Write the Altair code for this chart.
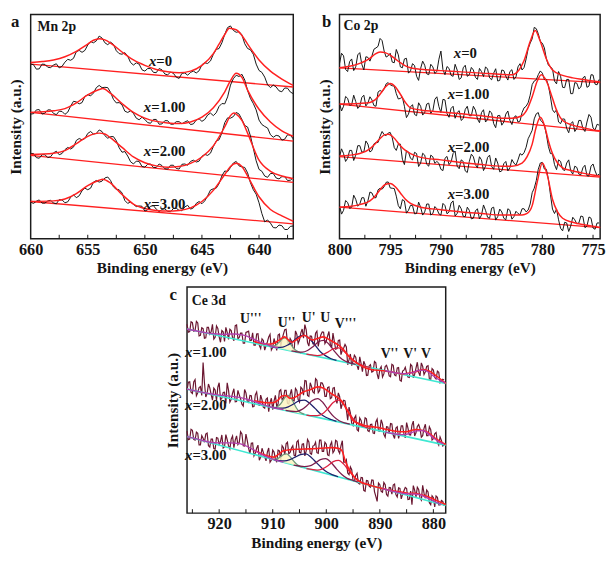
import altair as alt
import pandas as pd

FONT = "Liberation Serif"
RED = "#ff2020"
INK = "#141414"

# ===================== a : Mn 2p =====================
A_ENERGY = [660 - 0.5 * i for i in range(47)]          # 660 ... 637 eV
A_MID_ENERGY = [659.75 - 0.5 * i for i in range(46)]   # 659.75 ... 637.25 eV
A_NAMES = ["x=0", "x=1.00", "x=2.00", "x=3.00"]
A_X0 = [552, 536, 552, 542, 549, 540, 558, 564, 591, 589, 612, 619, 640, 619, 621, 594, 583, 577, 549, 552,
        530, 538, 525, 534, 518, 523, 507, 524, 526, 524, 550, 554, 583, 601, 646, 672, 652, 644, 601, 583,
        532, 511, 478, 480, 465, 476, 459]
A_X0_MID = [550, 537, 551, 541, 553, 545, 567, 570, 595, 595, 623, 625, 634, 613, 614, 585, 588, 557, 556, 534,
            538, 526, 538, 521, 527, 511, 523, 517, 530, 531, 556, 562, 598, 619, 667, 658, 654, 616, 597, 552,
            526, 487, 486, 468, 477, 464]
A_X1 = [395, 408, 395, 408, 397, 404, 394, 420, 433, 431, 456, 461, 485, 479, 463, 430, 424, 400, 397, 377,
        378, 366, 378, 364, 374, 363, 371, 370, 362, 376, 372, 392, 390, 419, 427, 486, 517, 520, 469, 428,
        376, 356, 330, 328, 313, 330, 317]
A_X1_MID = [396, 409, 398, 408, 393, 403, 401, 435, 427, 450, 452, 478, 478, 478, 441, 431, 404, 405, 382, 385,
            368, 378, 363, 374, 363, 371, 364, 374, 364, 380, 378, 398, 399, 428, 449, 506, 513, 502, 444, 408,
            362, 351, 322, 326, 316, 328]
A_X2 = [271, 258, 267, 258, 273, 267, 283, 285, 312, 314, 334, 332, 345, 327, 324, 311, 275, 263, 238, 246,
        228, 238, 227, 233, 222, 234, 222, 238, 246, 244, 262, 265, 293, 314, 368, 382, 400, 378, 354, 287,
        221, 200, 208, 194, 198, 186, 195]
A_X2_MID = [271, 256, 267, 261, 278, 271, 290, 291, 318, 318, 340, 334, 340, 319, 324, 289, 277, 245, 247, 230,
            237, 227, 238, 223, 234, 224, 237, 234, 250, 247, 268, 272, 310, 336, 383, 387, 395, 359, 326, 248,
            215, 196, 208, 191, 198, 187]
A_X3 = [118, 121, 115, 122, 115, 126, 116, 133, 132, 154, 157, 181, 181, 194, 186, 158, 147, 114, 111, 106,
        90, 105, 96, 95, 89, 98, 92, 103, 96, 114, 113, 138, 160, 176, 216, 227, 246, 229, 210, 157,
        116, 56, 52, 37, 44, 32, 43]
A_X3_MID = [114, 125, 115, 124, 113, 125, 119, 141, 138, 162, 162, 186, 184, 197, 166, 157, 123, 119, 104, 105,
            94, 107, 88, 97, 88, 99, 91, 108, 100, 120, 122, 156, 162, 201, 214, 241, 232, 227, 179, 143,
            82, 62, 38, 46, 32, 42]
A_FIT = {
    "x=0": [(660, 557), (659, 560), (658, 565), (657, 575), (656, 592), (655, 615), (654.5, 627), (654, 632),
            (653.5, 628), (653, 618), (652, 590), (651, 565), (650, 548), (649, 535), (648, 528), (647, 525),
            (646, 530), (645, 548), (644, 585), (643.5, 615), (643, 645), (642.6, 665), (642, 660),
            (641.5, 642), (641, 615), (640, 565), (639, 530), (638, 505), (637, 485)],
    "x=1.00": [(660, 400), (658, 405), (657, 412), (656, 430), (655, 455), (654, 472), (653.7, 475), (653, 460),
               (652, 428), (651, 400), (650, 382), (649, 372), (648, 367), (647, 365), (646, 370), (645, 385),
               (644, 415), (643, 465), (642.5, 500), (642, 523), (641.5, 510), (641, 470), (640, 410),
               (639, 370), (638, 342), (637, 325)],
    "x=2.00": [(660, 268), (658, 272), (657, 280), (656, 302), (655, 325), (654, 335), (653.5, 332), (653, 320),
               (652, 290), (651, 260), (650, 242), (649, 232), (648, 228), (647, 230), (646, 240), (645, 260),
               (644, 295), (643, 355), (642.5, 390), (642.2, 398), (642, 395), (641.5, 375), (641, 335),
               (640, 250), (639, 215), (638, 200), (637, 192)],
    "x=3.00": [(660, 120), (658, 122), (657, 128), (656, 145), (655, 170), (654, 187), (653.7, 190), (653, 178),
               (652, 142), (651, 112), (650, 98), (649, 92), (648, 90), (647, 92), (646, 100), (645, 120),
               (644, 155), (643, 205), (642.5, 230), (642, 240), (641.5, 230), (641, 200), (640, 135),
               (639, 95), (638, 75), (637, 58)],
}
A_BASE = {"x=0": [(660, 552), (637, 480)], "x=1.00": [(660, 400), (637, 310)],
          "x=2.00": [(660, 265), (637, 180)], "x=3.00": [(660, 120), (637, 50)]}
A_TICKS = [657.5, 655, 652.5, 650, 647.5, 645, 642.5, 640, 637.5]
A_TAG_TEXT = ["=0", "=1.00", "=2.00", "=3.00"]
A_TAG_E = [649.0, 649.44, 649.44, 649.44]
A_TAG_I = [560, 418, 278, 113]

# ===================== b : Co 2p =====================
B_ENERGY = [800 - 0.4 * i for i in range(65)]          # 800 ... 774.4 eV
B_MID_ENERGY = [799.8 - 0.4 * i for i in range(64)]    # 799.8 ... 774.6 eV
B_X0 = [555, 580, 530, 570, 545, 590, 535, 575, 580, 605, 635, 595, 580, 560, 600, 545, 570, 525, 555, 515,
        540, 550, 520, 545, 530, 595, 520, 540, 515, 535, 510, 550, 520, 535, 505, 530, 545, 510, 525, 500,
        535, 515, 530, 505, 545, 535, 570, 620, 670, 650, 620, 570, 545, 500, 530, 480, 505, 460, 495, 475,
        510, 480, 520, 490, 505]
B_X0_MID = [588, 537, 562, 533, 583, 553, 577, 563, 601, 610, 628, 576, 588, 558, 583, 542, 572, 532, 549, 502,
            563, 523, 553, 524, 569, 536, 546, 518, 553, 505, 542, 515, 543, 512, 540, 514, 538, 504, 539, 502,
            533, 503, 536, 513, 555, 543, 602, 634, 666, 626, 605, 550, 539, 491, 515, 479, 505, 460, 493, 481,
            515, 484, 519, 488]
B_X1 = [430, 420, 445, 425, 435, 420, 455, 430, 440, 420, 470, 475, 495, 485, 460, 445, 420, 395, 425, 390,
        420, 400, 430, 405, 450, 400, 440, 385, 420, 400, 375, 410, 390, 420, 380, 400, 370, 405, 365, 390,
        360, 395, 375, 385, 370, 400, 420, 455, 500, 520, 525, 505, 450, 400, 370, 380, 350, 365, 340, 375,
        350, 370, 385, 345, 360]
B_X1_MID = [405, 451, 423, 455, 413, 448, 421, 450, 422, 465, 466, 491, 488, 484, 443, 449, 384, 418, 394, 431,
            392, 427, 398, 442, 419, 442, 397, 413, 382, 406, 381, 420, 390, 408, 368, 409, 378, 399, 352, 391,
            370, 405, 362, 390, 373, 415, 431, 489, 504, 532, 505, 486, 409, 409, 365, 379, 336, 371, 350, 375,
            340, 394, 351, 363]
B_X2 = [260, 270, 255, 280, 265, 295, 275, 300, 280, 305, 325, 330, 335, 320, 280, 300, 235, 275, 250, 270,
        240, 265, 230, 260, 245, 220, 255, 235, 270, 230, 250, 215, 245, 260, 225, 250, 230, 265, 220, 240,
        215, 245, 225, 240, 250, 265, 290, 330, 380, 400, 370, 330, 270, 235, 250, 220, 240, 215, 230, 205,
        225, 200, 230, 215, 205]
B_X2_MID = [285, 245, 280, 248, 295, 275, 310, 275, 301, 305, 340, 327, 337, 289, 300, 252, 279, 255, 274, 229,
            271, 236, 265, 239, 239, 216, 261, 243, 278, 222, 245, 210, 268, 235, 260, 216, 258, 229, 256, 212,
            238, 215, 251, 233, 270, 273, 317, 344, 396, 376, 360, 292, 269, 219, 245, 216, 250, 205, 226, 203,
            233, 199, 237, 200]
B_X3 = [105, 90, 115, 100, 125, 110, 130, 120, 145, 130, 160, 165, 180, 160, 135, 95, 120, 90, 105, 80,
        100, 85, 110, 80, 95, 75, 105, 85, 120, 80, 95, 70, 90, 65, 95, 75, 90, 65, 100, 70,
        85, 60, 90, 70, 80, 95, 85, 110, 160, 220, 242, 220, 140, 80, 60, 25, 50, 40, 60, 50,
        70, 40, 65, 30, 50]
B_X3_MID = [78, 121, 96, 138, 103, 130, 103, 148, 130, 155, 157, 179, 161, 159, 105, 124, 81, 106, 79, 116,
            75, 110, 75, 102, 79, 112, 79, 113, 72, 106, 71, 100, 63, 88, 63, 107, 68, 97, 59, 94,
            65, 95, 62, 87, 76, 95, 91, 146, 184, 240, 221, 188, 94, 94, 33, 52, 23, 68, 47, 72,
            35, 69, 34, 50]
B_FIT = {
    "x=0": [(800, 542), (799, 547), (798, 556), (797, 572), (796.5, 585), (796, 592), (795.5, 590), (795, 582),
            (794.5, 570), (794, 558), (793.5, 548), (793, 542), (792, 537), (790, 533), (788, 529), (786, 525),
            (784, 521), (783, 520), (782.3, 535), (781.8, 565), (781.2, 625), (780.7, 660), (780.25, 630),
            (779.6, 570), (779, 535), (778, 518), (777, 510), (776, 505), (775, 500), (774.3, 497)],
    "x=1.00": [(800, 427), (798, 429), (797, 432), (796.5, 440), (796, 458), (795.5, 480), (795, 492),
               (794.5, 482), (794, 458), (793.5, 432), (793, 415), (792, 408), (790, 402), (788, 396),
               (786, 390), (784, 382), (783, 382), (782, 390), (781.5, 410), (781, 450), (780.5, 500),
               (780.1, 520), (779.6, 500), (779, 445), (778.5, 400), (778, 375), (777, 360), (776, 352),
               (775, 345), (774.3, 342)],
    "x=2.00": [(800, 262), (799, 265), (798, 270), (797, 285), (796.5, 300), (796, 318), (795.5, 330),
               (795.2, 331), (794.9, 328), (794.5, 315), (794, 295), (793.5, 280), (793, 270), (792, 258),
               (790, 250), (788, 242), (786, 235), (784, 230), (783, 230), (782, 240), (781.5, 260),
               (781, 300), (780.6, 355), (780.2, 385), (779.8, 360), (779.4, 310), (779, 270), (778.5, 240),
               (778, 225), (777, 215), (776, 208), (775, 202), (774.3, 198)],
    "x=3.00": [(800, 100), (799, 102), (798, 108), (797, 120), (796.5, 135), (796, 155), (795.5, 172),
               (795, 175), (794.5, 165), (794, 145), (793.5, 125), (793, 112), (792, 100), (790, 92), (788, 85),
               (786, 80), (784, 75), (782, 75), (781.5, 80), (781, 105), (780.5, 180), (780, 240),
               (779.5, 200), (779, 125), (778.5, 85), (778, 65), (777, 52), (776, 45), (775, 40),
               (774.3, 36)],
}
B_BASE = {"x=0": [(800, 542), (774.3, 495)], "x=1.00": [(800, 427), (774.3, 340)],
          "x=2.00": [(800, 260), (774.3, 195)], "x=3.00": [(800, 100), (774.3, 35)]}
B_TICKS = [797.5, 795, 792.5, 790, 787.5, 785, 782.5, 780, 777.5, 775]
B_TAG_TEXT = ["=0", "=1.00", "=2.00", "=3.00"]
B_TAG_E = [788.0, 788.6, 788.6, 788.6]
B_TAG_I = [590, 458, 291, 141]

# ===================== c : Ce 3d =====================
C_ENERGY = [926 - 0.5 * i for i in range(97)]          # 926 ... 878 eV
C_MID_ENERGY = [925.75 - 0.5 * i for i in range(96)]   # 925.75 ... 878.25 eV
C_NAMES = ["x=1.00", "x=2.00", "x=3.00"]
C_X1 = [600, 577, 605, 580, 604, 565, 586, 557, 590, 576, 553, 595, 560, 580, 546, 574, 584, 558, 596, 554,
        572, 540, 574, 578, 549, 534, 569, 533, 554, 518, 544, 568, 527, 539, 566, 530, 569, 584, 535, 547,
        518, 568, 550, 585, 599, 542, 563, 538, 572, 530, 567, 575, 547, 577, 526, 546, 523, 550, 518, 536,
        472, 506, 483, 496, 456, 476, 483, 438, 468, 449, 482, 443, 458, 433, 466, 457, 434, 470, 437, 463,
        420, 455, 446, 432, 468, 442, 480, 437, 467, 450, 469, 426, 455, 427, 448, 419, 424]
C_X1_MID = [575, 608, 578, 609, 563, 589, 556, 590, 569, 600, 559, 587, 543, 576, 590, 552, 580, 548, 598, 558,
            572, 540, 576, 549, 573, 534, 570, 523, 549, 532, 560, 519, 555, 517, 569, 553, 583, 542, 555, 523,
            579, 539, 573, 556, 582, 531, 562, 537, 578, 552, 576, 539, 563, 537, 572, 521, 549, 504, 525, 528,
            488, 469, 502, 469, 497, 450, 472, 439, 472, 451, 478, 427, 466, 443, 470, 437, 473, 440, 462, 423,
            452, 464, 433, 473, 431, 461, 448, 478, 441, 467, 427, 460, 432, 452, 415, 426]
C_X2 = [392, 418, 381, 425, 383, 403, 479, 370, 411, 378, 398, 359, 415, 366, 385, 415, 354, 382, 355, 391,
        364, 341, 383, 353, 374, 340, 386, 342, 361, 335, 367, 353, 330, 375, 348, 393, 366, 391, 348, 394,
        358, 391, 354, 396, 422, 375, 415, 386, 428, 384, 415, 404, 372, 402, 368, 400, 350, 371, 349, 358,
        297, 320, 280, 311, 263, 296, 277, 301, 261, 284, 255, 300, 262, 285, 243, 275, 286, 250, 272, 239,
        279, 254, 289, 251, 281, 247, 277, 270, 248, 284, 248, 267, 238, 258, 218, 233, 218]
C_X2_MID = [417, 385, 418, 374, 400, 375, 415, 381, 399, 360, 392, 401, 361, 384, 350, 391, 363, 396, 356, 377,
            347, 394, 356, 375, 339, 377, 353, 376, 338, 363, 324, 366, 358, 340, 389, 362, 391, 350, 378, 360,
            397, 362, 401, 376, 421, 372, 403, 382, 423, 390, 414, 372, 400, 365, 398, 365, 383, 333, 360, 329,
            338, 287, 303, 267, 304, 275, 304, 264, 283, 256, 291, 263, 298, 252, 276, 255, 285, 239, 276, 255,
            279, 241, 272, 250, 294, 257, 283, 243, 271, 248, 276, 234, 254, 227, 244, 215]
C_X3 = [262, 237, 265, 234, 255, 219, 240, 253, 216, 237, 207, 242, 220, 250, 213, 235, 206, 247, 234, 220,
        260, 216, 253, 208, 224, 184, 208, 170, 208, 181, 196, 164, 202, 175, 202, 169, 210, 222, 191, 209,
        186, 228, 195, 221, 184, 236, 192, 215, 227, 192, 234, 198, 221, 185, 228, 201, 230, 192, 232, 164,
        130, 149, 106, 122, 98, 116, 75, 106, 88, 108, 71, 40, 93, 69, 93, 57, 83, 92, 62, 83,
        48, 74, 81, 47, 30, 76, 85, 51, 91, 50, 70, 30, 52, 57, 29, 43, 26]
C_X3_MID = [235, 268, 236, 259, 219, 248, 227, 256, 212, 237, 205, 240, 230, 209, 251, 216, 237, 210, 247, 227,
            253, 215, 232, 190, 225, 193, 218, 180, 195, 168, 209, 171, 196, 164, 200, 216, 187, 227, 195, 216,
            184, 233, 193, 222, 200, 228, 189, 217, 194, 234, 198, 227, 187, 218, 194, 233, 201, 216, 164, 172,
            125, 140, 104, 129, 95, 115, 72, 105, 85, 107, 56, 98, 72, 100, 62, 84, 63, 95, 54, 81,
            63, 84, 46, 73, 90, 54, 78, 44, 66, 76, 36, 58, 23, 53, 29, 40]
C_ENV = {
    "x=1.00": [(913.5, 546), (912.8, 542), (911, 537), (909.8, 540), (908.8, 550), (907.8, 560), (906.5, 543),
               (905.5, 552), (904.1, 565), (902.6, 550), (901.5, 556), (900.6, 560), (899.5, 552), (898.9, 546),
               (897.7, 534), (896.8, 520), (895.9, 500), (894.1, 475), (891.7, 457), (889.3, 453), (887.5, 448),
               (885.7, 443), (884.5, 446), (883.3, 450), (881.8, 457), (880.8, 452), (879.7, 440), (877.7, 413)],
    "x=2.00": [(913.5, 358), (912.8, 356), (911, 352), (910, 352), (909, 360), (908.3, 373), (907.5, 375),
               (906.8, 366), (906, 368), (905, 378), (904.4, 385), (903, 393), (901.6, 402), (900.5, 398),
               (899.8, 390), (899, 380), (898, 370), (897, 355), (896.5, 340), (895.5, 310), (895, 295),
               (894, 287), (892.9, 280), (891, 275), (889.3, 270), (887, 262), (885.1, 260), (884, 265),
               (883.3, 267), (882, 264), (881, 258), (879.7, 240), (877.7, 220)],
    "x=3.00": [(913.5, 201), (913, 198), (912, 190), (911, 184), (909.8, 180), (909, 188), (908, 200), (907, 203),
               (905, 205), (903, 206), (901, 208), (899, 210), (897.6, 207), (897, 198), (896.5, 170),
               (896, 150), (895.3, 130), (894.5, 112), (893.5, 100), (892, 92), (890.5, 85), (888.1, 75),
               (886, 70), (884.5, 65), (883.5, 66), (882.7, 63), (881.5, 58), (879.7, 45), (877.7, 30)],
}
C_BASE = {"x=1.00": [(926, 585), (877.7, 413)], "x=2.00": [(926, 395), (877.7, 218)],
          "x=3.00": [(926, 245), (877.7, 27)]}
# U'' component with its own background (energy, intensity, background)
C_U2 = {
    "x=1.00": [(910.7, 531, 531), (910.2, 531, 529), (909.7, 532, 527), (909.2, 537, 525), (908.7, 545, 523),
               (908.2, 554, 522), (907.7, 557, 520), (907.2, 551, 518), (906.7, 538, 516), (906.2, 526, 515),
               (905.7, 518, 513), (905.2, 513, 511), (904.7, 509, 509)],
    "x=2.00": [(910.1, 337, 337), (909.6, 337, 335), (909.1, 340, 333), (908.6, 347, 331), (908.1, 359, 330),
               (907.6, 371, 328), (907.1, 375, 326), (906.6, 367, 324), (906.1, 352, 322), (905.6, 336, 320),
               (905.1, 325, 319), (904.6, 319, 317), (904.1, 315, 315)],
    "x=3.00": [(910.4, 175, 175), (909.9, 174, 172), (909.4, 174, 170), (908.9, 177, 168), (908.4, 183, 166),
               (907.9, 189, 163), (907.4, 190, 161), (906.9, 184, 159), (906.4, 174, 157), (905.9, 164, 154),
               (905.4, 156, 152), (904.9, 151, 150), (904.4, 148, 148)],
}
C_U3 = {
    "x=1.00": [(926, 585), (924, 578), (922, 572), (921, 570), (920, 569), (919, 568), (918, 569), (917, 569),
               (916, 567), (915, 563), (914, 556), (913, 549), (912, 541), (911, 535), (910, 529), (909, 525)],
    "x=2.00": [(926, 395), (924, 388), (922, 381), (920, 376), (918, 373), (916, 368), (914, 359), (912, 347),
               (910, 337), (908, 330)],
    "x=3.00": [(926, 245), (924, 237), (922, 228), (920, 225), (918, 225), (916, 222), (914, 207), (912, 188),
               (910, 174), (908, 164)],
}
C_U1 = {
    "x=1.00": [(910.1, 528), (909.1, 527), (908.1, 528), (907.1, 535), (906.1, 548), (905.1, 561), (904.1, 565),
               (903.1, 554), (902.1, 534), (901.1, 513), (900.1, 500), (899.1, 491), (898.1, 486)],
    "x=2.00": [(910.1, 337), (909.1, 335), (908.1, 335), (907.1, 339), (906.1, 348), (905.1, 358), (904.1, 360),
               (903.1, 350), (902.1, 334), (901.1, 317), (900.1, 306), (899.1, 299), (898.1, 293)],
    "x=3.00": [(909.8, 172), (908.8, 169), (907.8, 168), (906.8, 172), (905.8, 180), (904.8, 188), (903.8, 190),
               (902.8, 179), (901.8, 162), (900.8, 145), (899.8, 132), (898.8, 124), (897.8, 118)],
}
C_U = {
    "x=1.00": [(906.5, 516), (905.5, 513), (904.5, 512), (903.5, 517), (902.5, 529), (901.5, 544), (900.5, 549),
               (899.5, 537), (898.5, 515), (897.5, 496), (896.5, 484), (895.5, 477), (894.5, 473)],
    "x=2.00": [(907.6, 328), (906.6, 325), (905.6, 324), (904.6, 330), (903.6, 343), (902.6, 359), (901.6, 365),
               (900.6, 352), (899.6, 328), (898.6, 308), (897.6, 295), (896.6, 288), (895.6, 284)],
    "x=3.00": [(906.1, 155), (905.1, 152), (904.1, 150), (903.1, 152), (902.1, 161), (901.1, 172), (900.1, 175),
               (899.1, 163), (898.1, 143), (897.1, 125), (896.1, 113), (895.1, 107), (894.1, 101)],
}
C_V3 = {
    "x=1.00": [(903.7, 506), (902.7, 503), (901.7, 501), (900.7, 504), (899.7, 512), (898.7, 522), (897.7, 525),
               (896.7, 515), (895.7, 498), (894.7, 483), (893.7, 473), (892.7, 467), (891.7, 463)],
    "x=2.00": [(903.7, 313), (902.7, 311), (901.7, 311), (900.7, 317), (899.7, 333), (898.7, 353), (897.7, 360),
               (896.7, 346), (895.7, 319), (894.7, 295), (893.7, 282), (892.7, 275), (891.7, 270)],
    "x=3.00": [(903.7, 144), (902.7, 141), (901.7, 139), (900.7, 143), (899.7, 153), (898.7, 166), (897.7, 170),
               (896.7, 157), (895.7, 135), (894.7, 116), (893.7, 103), (892.7, 96), (891.7, 90)],
}
C_V = {
    "x=1.00": [(889, 453), (887.8, 449), (886.8, 446), (885.8, 444), (884.8, 444), (883.8, 448), (882.8, 454),
               (881.8, 455), (880.8, 447), (879.8, 434), (878.8, 423), (877.8, 415)],
    "x=2.00": [(889, 259), (888.1, 256), (887.1, 253), (886.1, 251), (885.1, 252), (884.1, 257), (883.1, 263),
               (882.1, 264), (881.1, 256), (880.1, 242), (879.1, 230), (878.1, 222)],
    "x=3.00": [(889.5, 80), (888.5, 76), (887.5, 72), (886.5, 68), (885.5, 65), (884.5, 64), (883.5, 63),
               (882.5, 61), (881.5, 54), (880.5, 46), (879.5, 38), (878.5, 31)],
}
C_TICKS = [925, 920, 915, 910, 905, 900, 895, 890, 885, 880]
C_TAG_TEXT = ["=1.00", "=2.00", "=3.00"]
C_TAG_E = [925.0, 925.0, 925.0]
C_TAG_I = [511, 343, 187]
C_PEAK_TEXT = ["U'''", "U''", "U'", "U", "V'''", "V''", "V'", "V"]
C_PEAK_E = [914.1, 907.4, 903.3, 900.2, 896.4, 888.2, 884.35, 881.4]
C_PEAK_I = [617, 605, 620, 620, 601, 505, 505, 505]

COMP_KINDS = ["U3", "U2", "U1", "U", "V3", "V"]
COMP_COLORS = ["#b13fae", "#6f987a", "#1e206c", "#7c1d4c", "#dc1f3e", "#b13fae"]


# ---------------------------------------------------------------
def grid_frame(energies, series):
    rows = []
    for name, vals in series.items():
        for e, v in zip(energies, vals):
            rows.append({"s": name, "E": e, "I": v})
    return pd.DataFrame(rows)


def pair_frame(series, kind=""):
    rows = []
    for name, pts in series.items():
        for p in pts:
            r = {"s": name, "g": name + kind, "k": kind, "E": p[0], "I": p[1]}
            if len(p) > 2:
                r["B"] = p[2]
            rows.append(r)
    return pd.DataFrame(rows)


def enc_x(dom, values):
    return alt.X("E:Q", scale=alt.Scale(domain=dom, reverse=True, nice=False, zero=False),
                 axis=alt.Axis(values=values, format="d", title="Binding energy (eV)", ticks=False,
                               domain=False, grid=False, labelPadding=3, titlePadding=3,
                               labelFlush=False, labelOverlap=False))


def enc_y(dom):
    return alt.Y("I:Q", scale=alt.Scale(domain=dom, nice=False, zero=False),
                 axis=alt.Axis(labels=False, ticks=False, domain=False, grid=False,
                               title="Intensity (a.u.)", titlePadding=7, minExtent=0))


def text_layers(X, Y, tag_e, tag_i, tag_t, title, title_e, title_i, letter, letter_e, letter_i):
    xs = pd.DataFrame({"E": tag_e, "I": tag_i, "t": ["x"] * len(tag_e)})
    rest = pd.DataFrame({"E": tag_e, "I": tag_i, "t": tag_t})
    ttl = pd.DataFrame({"E": [title_e], "I": [title_i], "t": [title]})
    let = pd.DataFrame({"E": [letter_e], "I": [letter_i], "t": [letter]})
    common = dict(font=FONT, fontWeight="bold", color=INK)
    return [
        alt.Chart(xs).mark_text(align="right", baseline="middle", fontStyle="italic", fontSize=15,
                                **common).encode(x=X, y=Y, text="t:N"),
        alt.Chart(rest).mark_text(align="left", baseline="middle", fontSize=15, **common).encode(
            x=X, y=Y, text="t:N"),
        alt.Chart(ttl).mark_text(align="left", baseline="middle", fontSize=14, **common).encode(
            x=X, y=Y, text="t:N"),
        alt.Chart(let).mark_text(align="center", baseline="top", fontSize=17, **common).encode(
            x=X, y=Y, text="t:N"),
    ]


def tick_layer(X, ticks, h):
    return alt.Chart(pd.DataFrame({"E": ticks})).mark_rule(color=INK, strokeWidth=1).encode(
        x=X, y=alt.value(h), y2=alt.value(h - 4))


# ------------------------ panel a ------------------------
W_A, H_A = 267, 228
XA = enc_x([637, 660], [660, 655, 650, 645, 640])
YA = enc_y([3, 708])
a_data = pd.concat([grid_frame(A_ENERGY, dict(zip(A_NAMES, [A_X0, A_X1, A_X2, A_X3]))),
                    grid_frame(A_MID_ENERGY, dict(zip(A_NAMES, [A_X0_MID, A_X1_MID, A_X2_MID, A_X3_MID])))],
                   ignore_index=True)
panel_a = alt.layer(
    alt.Chart(pair_frame(A_BASE)).mark_line(color=RED, strokeWidth=1.3).encode(x=XA, y=YA, detail="s:N"),
    alt.Chart(a_data).mark_line(color=INK, strokeWidth=1).encode(x=XA, y=YA, detail="s:N"),
    alt.Chart(pair_frame(A_FIT)).mark_line(color=RED, strokeWidth=1.5, interpolate="monotone").encode(
        x=XA, y=YA, detail="s:N"),
    tick_layer(XA, A_TICKS, H_A),
    *text_layers(XA, YA, A_TAG_E, A_TAG_I, A_TAG_TEXT, "Mn 2p", 659.4, 668, "a", 661.35, 708),
).properties(width=W_A, height=H_A)

# ------------------------ panel b ------------------------
W_B, H_B = 265, 228
XB = enc_x([774.3, 800], [800, 795, 790, 785, 780, 775])
YB = enc_y([0, 711])
b_data = pd.concat([grid_frame(B_ENERGY, dict(zip(A_NAMES, [B_X0, B_X1, B_X2, B_X3]))),
                    grid_frame(B_MID_ENERGY, dict(zip(A_NAMES, [B_X0_MID, B_X1_MID, B_X2_MID, B_X3_MID])))],
                   ignore_index=True)
panel_b = alt.layer(
    alt.Chart(pair_frame(B_BASE)).mark_line(color=RED, strokeWidth=1.3).encode(x=XB, y=YB, detail="s:N"),
    alt.Chart(b_data).mark_line(color=INK, strokeWidth=1).encode(x=XB, y=YB, detail="s:N"),
    alt.Chart(pair_frame(B_FIT)).mark_line(color=RED, strokeWidth=1.5, interpolate="monotone").encode(
        x=XB, y=YB, detail="s:N"),
    tick_layer(XB, B_TICKS, H_B),
    *text_layers(XB, YB, B_TAG_E, B_TAG_I, B_TAG_TEXT, "Co 2p", 799.6, 675, "b", 801.27, 711),
).properties(width=W_B, height=H_B)

# ------------------------ panel c ------------------------
W_C, H_C = 263, 230
XC = enc_x([877.7, 926], [920, 910, 900, 890, 880])
YC = enc_y([3, 718])
c_data = pd.concat([grid_frame(C_ENERGY, dict(zip(C_NAMES, [C_X1, C_X2, C_X3]))),
                    grid_frame(C_MID_ENERGY, dict(zip(C_NAMES, [C_X1_MID, C_X2_MID, C_X3_MID])))],
                   ignore_index=True)
comp = pd.concat([pair_frame(C_U2, "U2"), pair_frame(C_U1, "U1"), pair_frame(C_U, "U"),
                  pair_frame(C_V3, "V3")], ignore_index=True)
magenta = pd.concat([pair_frame(C_U3, "U3"), pair_frame(C_V, "V")], ignore_index=True)
COLOR = alt.Color("k:N", scale=alt.Scale(domain=COMP_KINDS, range=COMP_COLORS), legend=None)
peaks = pd.DataFrame({"E": C_PEAK_E, "I": C_PEAK_I, "t": C_PEAK_TEXT})
panel_c = alt.layer(
    alt.Chart(c_data).mark_line(color="#6a1630", strokeWidth=1.2).encode(x=XC, y=YC, detail="s:N"),
    alt.Chart(pair_frame(C_BASE)).mark_line(color="#3fe8d2", strokeWidth=1.6).encode(x=XC, y=YC, detail="s:N"),
    alt.Chart(pair_frame(C_U2, "U2")).mark_area(color="#fbf5c2", opacity=0.85, interpolate="monotone").encode(
        x=XC, y=YC, y2="B:Q", detail="s:N"),
    alt.Chart(comp).mark_line(strokeWidth=1.3, interpolate="monotone").encode(
        x=XC, y=YC, color=COLOR, detail="g:N"),
    alt.Chart(pair_frame(C_ENV)).mark_line(color=RED, strokeWidth=1.6, interpolate="monotone").encode(
        x=XC, y=YC, detail="s:N"),
    alt.Chart(magenta).mark_line(strokeWidth=1.4, interpolate="monotone").encode(
        x=XC, y=YC, color=COLOR, detail="g:N"),
    tick_layer(XC, C_TICKS, H_C),
    alt.Chart(peaks).mark_text(font=FONT, fontWeight="bold", fontSize=14, color=INK, align="center",
                               baseline="middle").encode(x=XC, y=YC, text="t:N"),
    *text_layers(XC, YC, C_TAG_E, C_TAG_I, C_TAG_TEXT, "Ce 3d", 925.1, 673, "c", 928.57, 718),
).properties(width=W_C, height=H_C)

top = alt.hconcat(panel_a, panel_b, spacing=20)
chart = alt.vconcat(top, panel_c, spacing=8, center=True).properties(padding=0)
chart = chart.configure_view(stroke="#1c1c1c", strokeWidth=1.5).configure_axis(
    labelFont=FONT, titleFont=FONT, labelFontSize=16.5, titleFontSize=15.5,
    labelFontWeight="bold", titleFontWeight="bold", labelColor=INK, titleColor=INK)

chart.save("out.html", embed_options={"renderer": "svg", "actions": False})
